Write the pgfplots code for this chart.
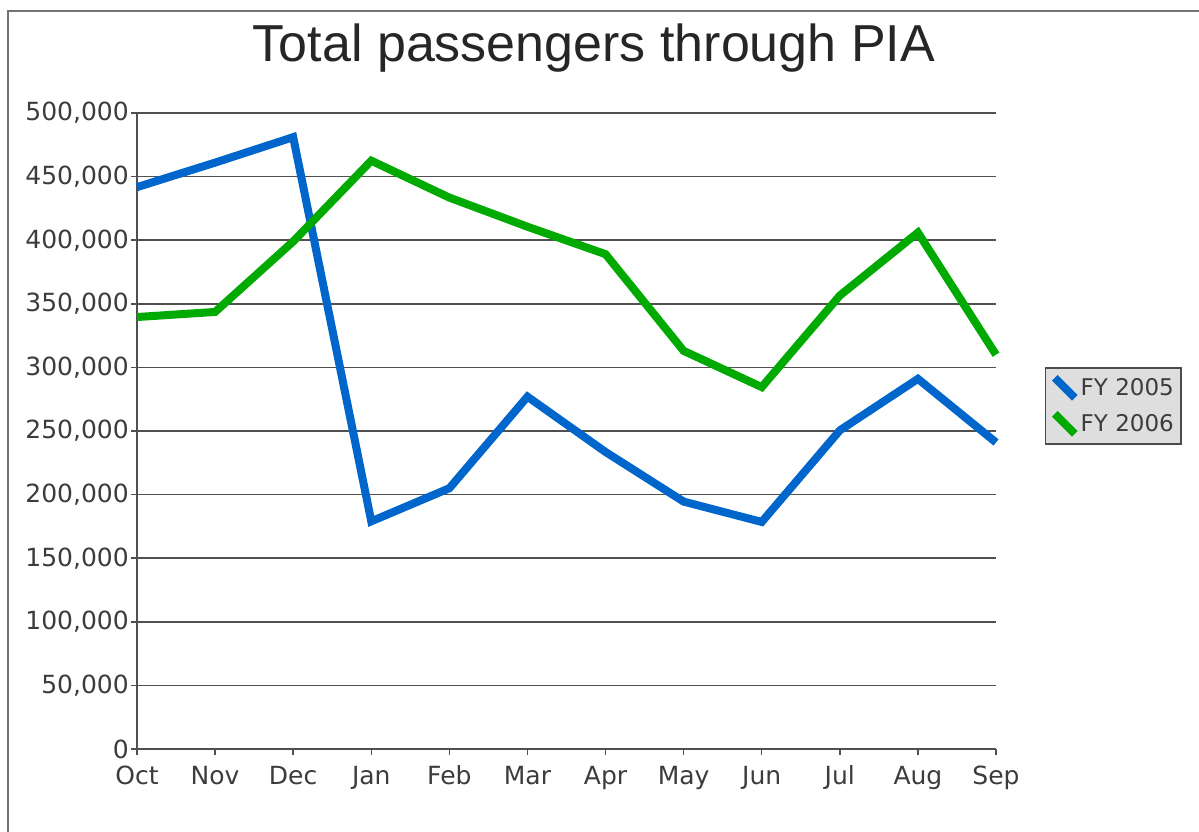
\documentclass[border=0pt]{standalone}
\usepackage{pgfplots}
\pgfplotsset{compat=1.18}
\usepackage{fontspec}
\setmainfont{DejaVu Sans}
\newfontfamily\titlefont{Liberation Sans}
\definecolor{fyblue}{RGB}{0,102,204}
\definecolor{fygreen}{RGB}{0,170,0}
\definecolor{gridc}{RGB}{80,80,80}
\definecolor{txt}{RGB}{60,60,60}
\begin{document}
\begin{tikzpicture}[x=1pt,y=1pt]
\useasboundingbox (0,0) rectangle (1199,831);
\draw[black!55, line width=1.5pt] (8,-2) -- (8,820) -- (1201,820);
\begin{axis}[
  at={(137pt,82pt)}, anchor=south west,
  width=859pt, height=636pt, scale only axis,
  xmin=0, xmax=11, ymin=0, ymax=500000,
  xtick={0,...,11},
  xticklabels={Oct,Nov,Dec,Jan,Feb,Mar,Apr,May,Jun,Jul,Aug,Sep},
  ytick={0,50000,...,500000},
  scaled y ticks=false,
  /pgf/number format/.cd, fixed, 1000 sep={,}, assume math mode=true, /pgfplots/.cd,
  axis x line*=bottom, axis y line*=left,
  axis line style={gridc, line width=1.5pt, -},
  tick align=outside, major tick length=6pt,
  tick style={gridc, line width=1.5pt},
  ymajorgrids, grid style={gridc, line width=1.5pt},
  ticklabel style={font=\fontsize{25}{30}\selectfont, text=txt},
  yticklabel style={inner sep=2pt},
  xticklabel style={inner sep=0pt, anchor=north, text height=19pt, text depth=5pt, yshift=-10pt},
  clip=false,
  title={\titlefont Total passengers through PIA},
  title style={font=\fontsize{52}{60}\selectfont, text=black!85, anchor=base, inner sep=0pt, at={(0.532,1.0723)}},
  legend style={at={(1.057,0.6006)}, anchor=north west, fill=black!13, draw=black!70, line width=1.5pt,
    font=\fontsize{23}{27}\selectfont, text=txt, inner xsep=5pt, inner ysep=6pt, row sep=8pt},
  legend cell align=left,
  legend image code/.code={\draw[#1, line width=8pt, line cap=butt] (0pt,10pt) -- (20pt,-10pt);},
]
\addplot[fyblue, line width=8pt] coordinates {
(0,441700) (1,461000) (2,481000) (3,179000) (4,205000) (5,277000)
(6,233500) (7,194500) (8,178500) (9,250500) (10,291000) (11,241000)};
\addlegendentry{FY 2005}
\addplot[fygreen, line width=8pt] coordinates {
(0,339600) (1,343600) (2,399000) (3,462500) (4,433500) (5,410600)
(6,389000) (7,313000) (8,284500) (9,356500) (10,406000) (11,310000)};
\addlegendentry{FY 2006}
\end{axis}
\end{tikzpicture}
\end{document}
